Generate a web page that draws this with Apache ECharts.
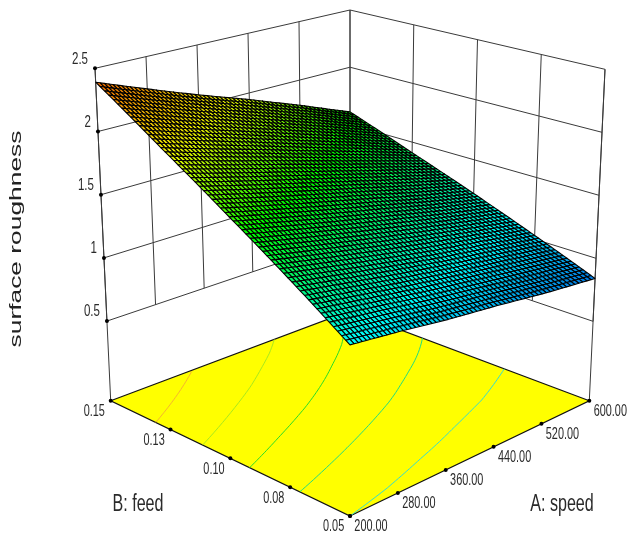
<!DOCTYPE html>
<html><head><meta charset="utf-8">
<style>html,body{margin:0;padding:0;background:#fff}#c{width:628px;height:535px}</style>
<script src="https://cdn.jsdelivr.net/npm/echarts@6/dist/echarts.min.js"></script>
</head><body><div id="c"></div>
<script>
// ---- values ----
const speedTicks = [200, 280, 360, 440, 520, 600];
const feedTicks = [0.05, 0.075, 0.10, 0.125, 0.15];
const speedLabels = ['200.00', '280.00', '360.00', '440.00', '520.00', '600.00'];
const feedLabels = ['0.05', '0.08', '0.10', '0.13', '0.15'];
const roughTicks = [0.5, 1, 1.5, 2, 2.5];
const roughLabels = ['0.5', '1', '1.5', '2', '2.5'];
const roughFloor = -0.13;
// one row per feed tick, one column per speed tick
const rowFeed005 = [1.11, 1.06, 1.00, 0.95, 0.89, 0.84];
const rowFeed008 = [1.42, 1.34, 1.26, 1.18, 1.11, 1.03];
const rowFeed010 = [1.73, 1.63, 1.53, 1.43, 1.32, 1.22];
const rowFeed013 = [2.05, 1.93, 1.81, 1.68, 1.55, 1.41];
const rowFeed015 = [2.39, 2.24, 2.09, 1.945, 1.785, 1.61];
const roughness = [rowFeed005, rowFeed008, rowFeed010, rowFeed013, rowFeed015];
const contourLevels = [2.134, 1.878, 1.63, 1.37, 1.11];
const contourColors = ['#f5b52e', '#a8e81e', '#28dc28', '#1fdc82', '#33dcd2'];

// ---- picture box: screen corners of the 3D plot box ----
const box = {
  floor: {F: [350, 516], R: [589.3, 400.7], L: [110.7, 400.7], K: [350, 311]},
  top: {F: [350, 153], R: [605, 69.3], L: [95, 68.3], K: [350, 10]}
};
const ramp = [
  [0.84, [0, 120, 225]], [1.11, [0, 250, 250]], [1.35, [0, 245, 130]], [1.62, [0, 255, 0]],
  [2.0, [235, 245, 0]], [2.39, [245, 105, 0]]
];
function colorOf(z) {
  if (z <= ramp[0][0]) return 'rgb(' + ramp[0][1] + ')';
  for (let i = 1; i < ramp.length; i++) {
    if (z <= ramp[i][0]) {
      const t = (z - ramp[i - 1][0]) / (ramp[i][0] - ramp[i - 1][0]);
      return 'rgb(' + ramp[i][1].map((v, k) => Math.round(ramp[i - 1][1][k] + (v - ramp[i - 1][1][k]) * t)) + ')';
    }
  }
  return 'rgb(' + ramp[ramp.length - 1][1] + ')';
}
function mix(q, u, v) {
  return [0, 1].map(k => (1 - u) * (1 - v) * q.F[k] + u * (1 - v) * q.R[k] + (1 - u) * v * q.L[k] + u * v * q.K[k]);
}
const A0 = speedTicks[0], A1 = speedTicks[speedTicks.length - 1];
const B0 = feedTicks[0], B1 = feedTicks[feedTicks.length - 1];
const Z1 = roughTicks[roughTicks.length - 1];
function project(speed, feed, z, api) {
  const u = (speed - A0) / (A1 - A0), v = (feed - B0) / (B1 - B0), w = (z - roughFloor) / (Z1 - roughFloor);
  const p = mix(box.floor, u, v), q = mix(box.top, u, v);
  return api.coord([p[0] + (q[0] - p[0]) * w, p[1] + (q[1] - p[1]) * w]);
}
function zAt(ia, ib, s, t) {
  return (1 - s) * (1 - t) * roughness[ib][ia] + s * (1 - t) * roughness[ib][ia + 1] +
    (1 - s) * t * roughness[ib + 1][ia] + s * t * roughness[ib + 1][ia + 1];
}
const lineColor = '#3a3a3a', font = '"Liberation Sans",Arial,sans-serif';
function seg(a, b, w, c) {
  return {type: 'line', shape: {x1: a[0], y1: a[1], x2: b[0], y2: b[1]}, style: {stroke: c || lineColor, lineWidth: w || 1}, silent: true};
}
function dot(p, r) { return {type: 'circle', shape: {cx: p[0], cy: p[1], r: r || 2}, style: {fill: '#000'}, silent: true}; }
function label(p, dx, dy, text, size, sx, align) {
  return {type: 'text', x: p[0] + dx, y: p[1] + dy, scaleX: sx, silent: true,
    style: {text: text, fill: '#2a2a2a', font: size + 'px ' + font, textAlign: align || 'center', textVerticalAlign: 'middle', align: align || 'center', verticalAlign: 'middle'}};
}

const wallSeries = {type: 'custom', coordinateSystem: 'cartesian2d', clip: false, silent: true, data: [[0]], renderItem(p, api) {
  const ch = [];
  roughTicks.forEach(z => {
    ch.push(seg(project(A0, B1, z, api), project(A1, B1, z, api)));
    ch.push(seg(project(A1, B1, z, api), project(A1, B0, z, api)));
  });
  speedTicks.forEach(a => ch.push(seg(project(a, B1, 0.5, api), project(a, B1, Z1, api))));
  feedTicks.forEach(b => ch.push(seg(project(A1, b, 0.5, api), project(A1, b, Z1, api))));
  ch.push(seg(project(A0, B1, roughFloor, api), project(A0, B1, Z1, api)));
  ch.push(seg(project(A1, B0, roughFloor, api), project(A1, B0, Z1, api)));
  return {type: 'group', children: ch};
}};
const floorSeries = {type: 'custom', coordinateSystem: 'cartesian2d', clip: false, silent: true, data: [[0]], renderItem(p, api) {
  const c = [[A0, B0], [A1, B0], [A1, B1], [A0, B1]].map(q => project(q[0], q[1], roughFloor, api));
  return {type: 'polygon', shape: {points: c}, style: {fill: '#ffff00', stroke: '#111', lineWidth: 1.2}, silent: true};
}};
const contourSeries = {type: 'custom', coordinateSystem: 'cartesian2d', clip: false, silent: true,
  data: contourLevels.map((l, i) => [l, i]), renderItem(p, api) {
    const level = api.value(0), pts = [], STEP = 12;
    for (let ia = 0; ia < speedTicks.length - 1; ia++) for (let k = 0; k <= STEP; k++) {
      const s = k / STEP, a = speedTicks[ia] + (speedTicks[ia + 1] - speedTicks[ia]) * s;
      for (let ib = 0; ib < feedTicks.length - 1; ib++) {
        const z0 = zAt(ia, ib, s, 0), z1 = zAt(ia, ib, s, 1);
        if (level >= z0 - 1e-6 && level <= z1 + 1e-6) {
          const t = (level - z0) / (z1 - z0);
          pts.push(project(a, feedTicks[ib] + (feedTicks[ib + 1] - feedTicks[ib]) * t, roughFloor, api));
          break;
        }
      }
    }
    return {type: 'polyline', shape: {points: pts}, style: {fill: 'none', stroke: contourColors[api.value(1)], lineWidth: 1}, silent: true};
  }};
const cells = [];
for (let ia = speedTicks.length - 2; ia >= 0; ia--) for (let ib = feedTicks.length - 2; ib >= 0; ib--) cells.push([ia, ib]);
const SUB_A = 12, SUB_B = 15;
const surfaceSeries = {type: 'custom', coordinateSystem: 'cartesian2d', clip: false, silent: true, progressive: 0, data: cells, renderItem(p, api) {
  const ia = api.value(0), ib = api.value(1), ch = [];
  const aw = speedTicks[ia + 1] - speedTicks[ia], bw = feedTicks[ib + 1] - feedTicks[ib];
  const P = (i, j) => project(speedTicks[ia] + aw * i / SUB_A, feedTicks[ib] + bw * j / SUB_B, zAt(ia, ib, i / SUB_A, j / SUB_B), api);
  for (let i = SUB_A - 1; i >= 0; i--) for (let j = SUB_B - 1; j >= 0; j--) {
    ch.push({type: 'polygon', silent: true, shape: {points: [P(i, j), P(i + 1, j), P(i + 1, j + 1), P(i, j + 1)]},
      style: {fill: colorOf(zAt(ia, ib, (i + .5) / SUB_A, (j + .5) / SUB_B)), stroke: '#000', lineWidth: 1.1, lineJoin: 'bevel'}});
  }
  return {type: 'group', children: ch};
}};
const markSeries = {type: 'custom', coordinateSystem: 'cartesian2d', clip: false, silent: true, data: [[0]], renderItem(p, api) {
  const ch = [];
  roughTicks.forEach((z, i) => {
    const q = project(A0, B1, z, api);
    ch.push(dot(q));
    ch.push(label(q, -7, -9, roughLabels[i], 16, 0.72, 'right'));
  });
  feedTicks.forEach((b, i) => {
    const q = project(A0, b, roughFloor, api);
    ch.push(dot(q));
    ch.push(label(q, -16.4, 11, feedLabels[i], 16, 0.68));
  });
  speedTicks.forEach((a, i) => {
    const q = project(a, B0, roughFloor, api);
    ch.push(dot(q));
    ch.push(label(q, 21, 11, speedLabels[i], 16, 0.68));
  });
  ch.push(label(api.coord([138, 505]), 0, 0, 'B: feed', 23, 0.7));
  ch.push(label(api.coord([562, 505]), 0, 0, 'A: speed', 23, 0.7));
  ch.push({type: 'text', x: api.coord([16, 0])[0], y: api.coord([0, 239])[1], rotation: Math.PI / 2, scaleX: 1.55, silent: true,
    style: {text: 'surface roughness', fill: '#222', font: '17px ' + font, textAlign: 'center', textVerticalAlign: 'middle', align: 'center', verticalAlign: 'middle'}});
  return {type: 'group', children: ch};
}};

const chart = echarts.init(document.getElementById('c'), null, {renderer: 'canvas'});
chart.setOption({
  animation: false, backgroundColor: '#fff',
  grid: {left: 0, right: 0, top: 0, bottom: 0},
  xAxis: {type: 'value', min: 0, max: 628, show: false},
  yAxis: {type: 'value', min: 0, max: 535, inverse: true, show: false},
  tooltip: {show: false},
  series: [wallSeries, floorSeries, contourSeries, surfaceSeries, markSeries]
});
</script></body></html>
